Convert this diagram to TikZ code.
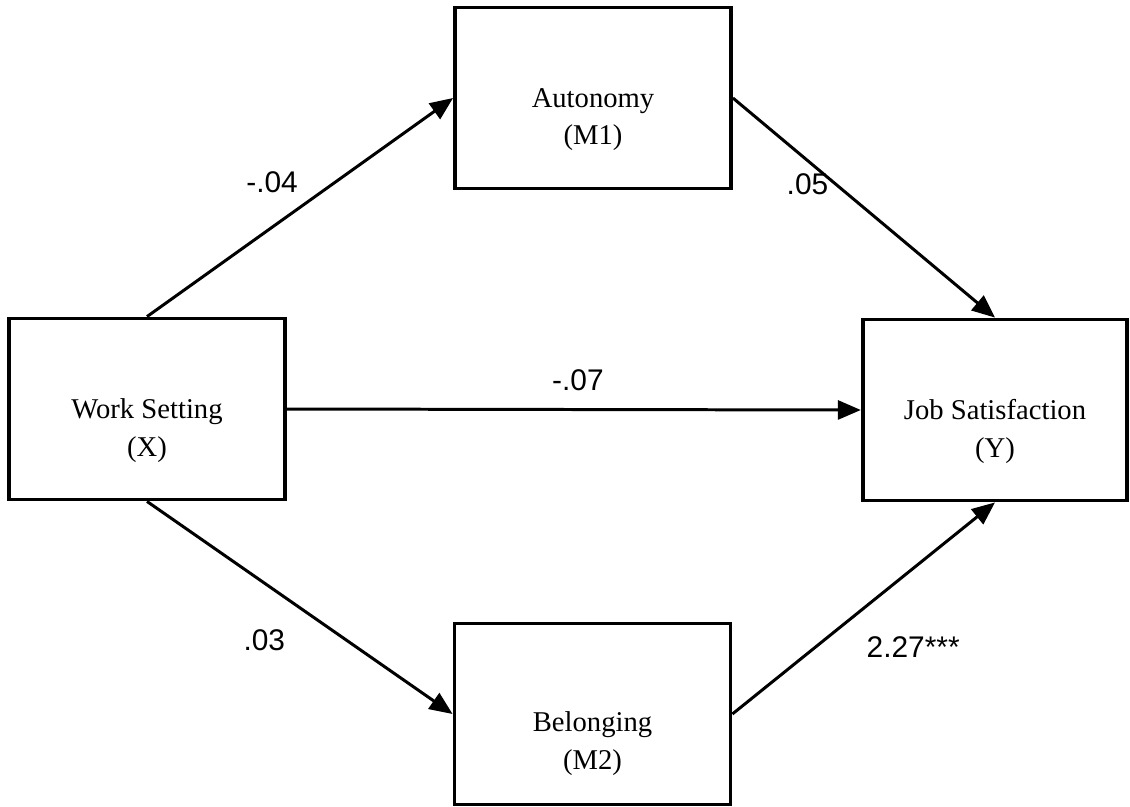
\documentclass[tikz,border=0pt]{standalone}
\usepackage{fontspec}
\setmainfont{Liberation Serif}
\newfontfamily\wtfont{Liberation Sans}
\usetikzlibrary{arrows.meta}

\begin{document}
\begin{tikzpicture}[x=0.02cm,y=-0.02cm,>={Triangle[length=4.6mm,width=3.8mm]},
	var/.style={draw,rectangle,line width=2.2pt,minimum width=5.52cm,minimum height=3.62cm,inner sep=0pt},
	varname/.style={align=center,font=\fontsize{16.3}{21.5}\selectfont,yshift=-0.43cm},
	effect/.style={->,line width=1.7pt},
	wt/.style={font=\wtfont\fontsize{17}{20}\selectfont}]

	\useasboundingbox (0,0) rectangle (1130,806);

	% valtozok
	\node[var] (ws) at (147,409) {};
	\node[var] (auto) at (593,98) {};
	\node[var] (bel) at (592.5,714) {};
	\node[var,minimum width=5.29cm] (js) at (995,410) {};

	\node[varname] (wstext) at (ws) {Work Setting\\(X)};
	\node[varname] (autotext) at (auto) {Autonomy\\(M1)};
	\node[varname,yshift=-0.16cm] (beltext) at (bel) {Belonging\\(M2)};
	\node[varname] (jstext) at (js) {Job Satisfaction\\(Y)};

	% hatasok
	\draw[effect] (ws.north) -- node[wt,xshift=-0.56cm,yshift=0.5cm] {-.04} (auto.west);
	\draw[effect] (auto.east) -- node[wt,xshift=-1.13cm,yshift=0.48cm] {.05} (js.north);
	\draw[effect] (ws.east) -- node[wt,xshift=0.08cm,yshift=0.58cm] {-.07} (js.west);
	\draw[effect] (ws.south) -- node[wt,xshift=-0.71cm,yshift=-0.66cm] {.03} (bel.west);
	\draw[effect] (bel.east) -- node[wt,xshift=0.99cm,yshift=-0.78cm] {2.27***} (js.south);
\end{tikzpicture}
\end{document}
